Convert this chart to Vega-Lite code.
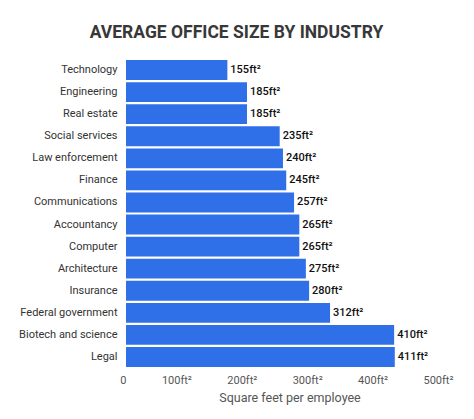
{
  "$schema": "https://vega.github.io/schema/vega-lite/v6.json",
  "width": 327,
  "height": 309,
  "autosize": {"type": "none"},
  "padding": {"left": 126, "top": 59, "right": 21, "bottom": 51},
  "background": "white",
  "title": {
    "text": "AVERAGE OFFICE SIZE BY INDUSTRY",
    "font": "Roboto",
    "fontSize": 17.5,
    "fontWeight": "bold",
    "color": "#383838",
    "anchor": "middle",
    "dx": -53,
    "offset": 18
  },
  "data": {
    "values": [
      {"industry": "Technology", "size": 155},
      {"industry": "Engineering", "size": 185},
      {"industry": "Real estate", "size": 185},
      {"industry": "Social services", "size": 235},
      {"industry": "Law enforcement", "size": 240},
      {"industry": "Finance", "size": 245},
      {"industry": "Communications", "size": 257},
      {"industry": "Accountancy", "size": 265},
      {"industry": "Computer", "size": 265},
      {"industry": "Architecture", "size": 275},
      {"industry": "Insurance", "size": 280},
      {"industry": "Federal government", "size": 312},
      {"industry": "Biotech and science", "size": 410},
      {"industry": "Legal", "size": 411}
    ]
  },
  "encoding": {
    "y": {
      "field": "industry",
      "type": "nominal",
      "sort": null,
      "scale": {"paddingInner": 0.1, "paddingOuter": 0.05},
      "axis": {
        "title": null,
        "ticks": false,
        "domain": false,
        "labelPadding": 9,
        "labelFont": "Roboto",
        "labelFontSize": 11,
        "labelColor": "#333333"
      }
    },
    "x": {
      "field": "size",
      "type": "quantitative",
      "scale": {"domain": [0, 500]},
      "axis": {
        "title": "Square feet per employee",
        "titleFont": "Roboto",
        "titleFontSize": 12.5,
        "titleFontWeight": "normal",
        "titleColor": "#555555",
        "titlePadding": 6,
        "values": [0, 100, 200, 300, 400, 500],
        "labelExpr": "datum.value == 0 ? '0' : datum.value + 'ft²'",
        "labelAlign": "right",
        "labelDx": -6,
        "labelPadding": 6,
        "labelFont": "Roboto",
        "labelFontSize": 11,
        "labelColor": "#555555",
        "ticks": false,
        "domain": false,
        "grid": false
      }
    }
  },
  "layer": [
    {
      "mark": {"type": "bar", "color": "#2f6fe8"}
    },
    {
      "mark": {
        "type": "text",
        "align": "left",
        "dx": 3,
        "font": "Roboto",
        "fontSize": 11,
        "fontWeight": 500,
        "color": "#111111",
        "text": {"expr": "datum.size + 'ft²'"}
      }
    }
  ],
  "config": {
    "view": {"stroke": null}
  }
}
